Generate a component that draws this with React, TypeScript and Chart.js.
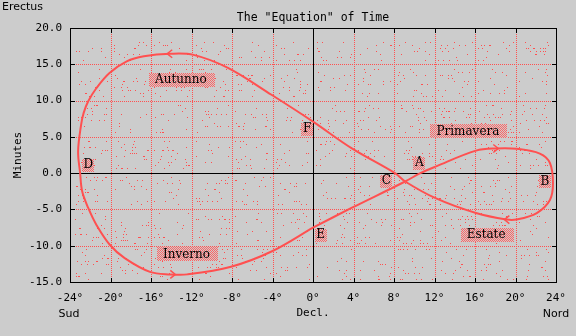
import React, { useEffect, useRef } from 'react';
import { Chart, registerables } from 'chart.js';

Chart.register(...registerables);

// Analemma: declination (deg) vs equation of time (minutes), starting at the spring equinox (E)
const declination = [
  0, 3.8, 9.1, 10.6, 12.1, 16.1, 18.1, 20.1, 22.4, 23.4, 23.7, 23.4, 22.1, 20.1, 19.1, 16.1, 12.1, 9.1, 8.1,
  3.8, 0, -4.1, -8.4, -11.8, -14.1, -16.7, -18.4, -20.1, -21.4, -22.2, -22.65, -22.9, -23.2, -23.0, -22.8,
  -22.2, -21.4, -20.05, -18.6, -16.1, -14.1, -12.4, -8.1, -4.1, 0,
];
const minutes = [
  -7.5, -4.8, -1.15, 0, 0.9, 3.1, 3.4, 3.35, 2.7, 1.4, -1.4, -3.7, -5.5, -6.4, -6.4, -5.5, -3.45, -1.15, 0,
  3.45, 7.1, 10.8, 14.5, 16.3, 16.45, 16.1, 15.4, 13.8, 11.7, 9.9, 8.3, 6.7, 3.0, 0, -2.5,
  -4.8, -7.1, -9.9, -11.7, -13.6, -13.95, -13.95, -12.9, -10.8, -7.5,
];

const xTickValues = [-24, -20, -16, -12, -8, -4, 0, 4, 8, 12, 16, 20, 24];
const yTickValues = [-15, -10, -5, 0, 5, 10, 15, 20];

const seasonNames = ['Autunno', 'Primavera', 'Estate', 'Inverno'];
const seasonX = [-13.05, 15.3, 17.1, -12.5];
const seasonY = [12.9, 5.75, -8.5, -11.15];

const markLetters = ['A', 'B', 'C', 'D', 'E', 'F'];
const markX = [10.5, 22.9, 7.25, -22.2, 0.75, -0.58];
const markY = [1.46, -1.07, -1.02, 1.15, -8.5, 6.1];

const arrowX = [-14.4, -13.6, 18.3, 18.9];
const arrowY = [16.45, -13.95, 3.4, -6.4];
const arrowDir = [-1, 1, 1, -1];

const titleText = 'The "Equation" of Time';
const yTitle = 'Minutes';
const xTitle = 'Decl.';
const leftEnd = 'Sud';
const rightEnd = 'Nord';
const cornerText = 'Erectus';

const RED = '#ff5050';
const GRID = '#ff5050';
const MONO = '"DejaVu Sans Mono", monospace';

function makeChecker(ctx: CanvasRenderingContext2D) {
  const c = document.createElement('canvas');
  c.width = 2;
  c.height = 2;
  const g = c.getContext('2d')!;
  g.fillStyle = '#cccccc';
  g.fillRect(0, 0, 2, 2);
  g.fillStyle = '#ff6464';
  g.fillRect(0, 0, 1, 1);
  g.fillRect(1, 1, 1, 1);
  return ctx.createPattern(c, 'repeat');
}

const decorPlugin = {
  id: 'decor',
  beforeDatasetsDraw(chart: any) {
    const { ctx, chartArea: a, scales } = chart;
    const xs = scales.x;
    const ys = scales.y;
    ctx.save();
    const gx = xTickValues.map((v) => Math.round(xs.getPixelForValue(v)));
    const gy = yTickValues.map((v) => Math.round(ys.getPixelForValue(v)));
    const L = Math.round(a.left);
    const R = Math.round(a.right);
    const T = Math.round(a.top);
    const B = Math.round(a.bottom);
    ctx.fillStyle = GRID;
    // dotted grid
    gx.forEach((g) => {
      for (let y = T; y <= B; y += 2) ctx.fillRect(g, y, 1, 1);
    });
    gy.forEach((g) => {
      for (let x = L; x <= R; x += 2) ctx.fillRect(x, g, 1, 1);
    });
    // stipple texture (decoration only)
    let seed = 12345;
    const rnd = () => {
      seed = (seed * 1103515245 + 12345) % 2147483648;
      return seed / 2147483648;
    };
    for (let y = T + 14; y < B - 2; y += 3) {
      if (gy.some((g) => Math.abs(g - y) < 3)) continue;
      for (let x = L + 5; x < R - 7; x++) {
        if (gx.some((g) => Math.abs(g - x) < 3)) continue;
        if (rnd() < 0.05) ctx.fillRect(x, y, 1, 1);
      }
    }
    // zero lines
    ctx.strokeStyle = '#000';
    ctx.lineWidth = 1;
    const x0 = Math.round(xs.getPixelForValue(0)) + 0.5;
    const y0 = Math.round(ys.getPixelForValue(0)) + 0.5;
    ctx.beginPath();
    ctx.moveTo(x0, a.top);
    ctx.lineTo(x0, a.bottom);
    ctx.moveTo(a.left, y0);
    ctx.lineTo(a.right, y0);
    ctx.stroke();
    // frame
    ctx.strokeRect(L + 0.5, T + 0.5, R - L, B - T);
    // inner ticks
    ctx.beginPath();
    gx.forEach((g) => {
      ctx.moveTo(g + 0.5, T);
      ctx.lineTo(g + 0.5, T + 5);
      ctx.moveTo(g + 0.5, B + 1);
      ctx.lineTo(g + 0.5, B - 4);
    });
    gy.forEach((g) => {
      ctx.moveTo(L, g + 0.5);
      ctx.lineTo(L + 5, g + 0.5);
      ctx.moveTo(R + 1, g + 0.5);
      ctx.lineTo(R - 4, g + 0.5);
    });
    ctx.stroke();
    ctx.restore();
  },
  afterDatasetsDraw(chart: any) {
    const { ctx, chartArea: a, scales } = chart;
    const xs = scales.x;
    const ys = scales.y;
    ctx.save();
    // arrows
    ctx.strokeStyle = RED;
    ctx.lineWidth = 1.5;
    arrowX.forEach((v, i) => {
      const px = xs.getPixelForValue(v);
      const py = ys.getPixelForValue(arrowY[i]);
      const d = arrowDir[i];
      ctx.beginPath();
      ctx.moveTo(px - d * 5, py - 4);
      ctx.lineTo(px, py);
      ctx.lineTo(px - d * 5, py + 4);
      ctx.stroke();
    });
    const pat = makeChecker(ctx);
    ctx.font = '12px "DejaVu Serif", serif';
    ctx.textAlign = 'center';
    ctx.textBaseline = 'middle';
    seasonNames.forEach((t, i) => {
      const px = xs.getPixelForValue(seasonX[i]);
      const py = ys.getPixelForValue(seasonY[i]);
      const w = ctx.measureText(t).width;
      ctx.fillStyle = pat;
      ctx.fillRect(Math.round(px - w / 2 - 6), Math.round(py - 7), Math.round(w + 14), 14);
      ctx.fillStyle = '#000';
      ctx.fillText(t, px, py + 0.5);
    });
    markLetters.forEach((t, i) => {
      const px = xs.getPixelForValue(markX[i]);
      const py = ys.getPixelForValue(markY[i]);
      ctx.fillStyle = pat;
      ctx.fillRect(Math.round(px - 6), Math.round(py - 6), 12, 13);
      ctx.fillStyle = '#000';
      ctx.fillText(t, px, py + 0.5);
    });
    // titles
    ctx.fillStyle = '#000';
    ctx.font = '11.5px ' + MONO;
    ctx.fillText(titleText, (a.left + a.right) / 2, 18);
    ctx.font = '11px ' + MONO;
    ctx.fillText(xTitle, xs.getPixelForValue(0), 313);
    ctx.save();
    ctx.translate(18.5, (a.top + a.bottom) / 2);
    ctx.rotate(-Math.PI / 2);
    ctx.fillText(yTitle, 0, 0);
    ctx.restore();
    ctx.font = '11px "DejaVu Sans", sans-serif';
    ctx.fillText(leftEnd, a.left - 1, 314);
    ctx.fillText(rightEnd, a.right, 314);
    ctx.textAlign = 'left';
    ctx.fillText(cornerText, 2, 7);
    ctx.restore();
  },
};

export default function App() {
  const ref = useRef<HTMLCanvasElement>(null);
  useEffect(() => {
    document.body.style.margin = '0';
    document.body.style.background = '#cccccc';
    const points = declination.map((x, i) => ({ x, y: minutes[i] }));
    const chart = new Chart(ref.current!, {
      type: 'scatter',
      data: {
        datasets: [
          {
            data: points,
            showLine: true,
            borderColor: RED,
            borderWidth: 2,
            pointRadius: 0,
            tension: 0.35,
            fill: false,
          },
        ],
      },
      options: {
        animation: false,
        responsive: false,
        devicePixelRatio: 1,
        layout: { padding: { top: 28, right: 20, left: 0, bottom: 0 } },
        plugins: { legend: { display: false }, tooltip: { enabled: false } },
        scales: {
          x: {
            type: 'linear',
            min: -24,
            max: 24,
            afterFit: (s: any) => {
              s.height = 54;
            },
            afterBuildTicks: (s: any) => {
              s.ticks = xTickValues.map((v) => ({ value: v }));
            },
            ticks: {
              color: '#000',
              font: { family: 'DejaVu Sans Mono', size: 11 },
              padding: 10,
              maxRotation: 0,
              autoSkip: false,
              callback: (v: any) => v + '°',
            },
            grid: { display: false, drawTicks: false },
            border: { display: false },
          },
          y: {
            type: 'linear',
            min: -15,
            max: 20,
            afterFit: (s: any) => {
              s.width = 70;
            },
            afterBuildTicks: (s: any) => {
              s.ticks = yTickValues.map((v) => ({ value: v }));
            },
            ticks: {
              color: '#000',
              font: { family: 'DejaVu Sans Mono', size: 11 },
              padding: 8,
              autoSkip: false,
              callback: (v: any) => Number(v).toFixed(1),
            },
            grid: { display: false, drawTicks: false },
            border: { display: false },
          },
        },
      },
      plugins: [decorPlugin],
    });
    return () => chart.destroy();
  }, []);
  return (
    <div style={{ width: 576, height: 336, background: '#cccccc' }}>
      <canvas ref={ref} width={576} height={336} style={{ display: 'block' }} />
    </div>
  );
}
